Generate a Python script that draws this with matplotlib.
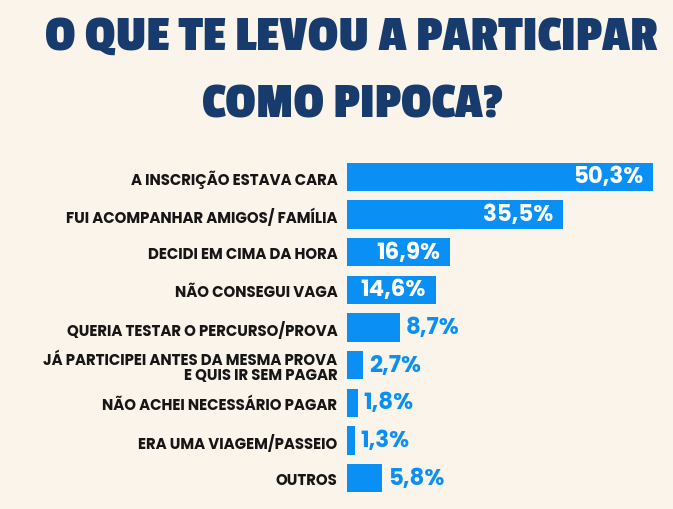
import matplotlib.pyplot as plt

# dados
categorias = [
    'A INSCRIÇÃO ESTAVA CARA',
    'FUI ACOMPANHAR AMIGOS/ FAMÍLIA',
    'DECIDI EM CIMA DA HORA',
    'NÃO CONSEGUI VAGA',
    'QUERIA TESTAR O PERCURSO/PROVA',
    'JÁ PARTICIPEI ANTES DA MESMA PROVA\nE QUIS IR SEM PAGAR',
    'NÃO ACHEI NECESSÁRIO PAGAR',
    'ERA UMA VIAGEM/PASSEIO',
    'OUTROS',
]
valores = [50.3, 35.5, 16.9, 14.6, 8.7, 2.7, 1.8, 1.3, 5.8]
rotulos = ['50,3%', '35,5%', '16,9%', '14,6%', '8,7%', '2,7%', '1,8%', '1,3%', '5,8%']
dentro = [True, True, True, True, False, False, False, False, False]

fundo = '#FBF4EA'
azul = '#0A8FF5'
marinho = '#173B6C'

fig = plt.figure(figsize=(6.73, 5.1), dpi=100, facecolor=fundo)
ax = fig.add_axes([347 / 673, 12 / 510, 326 / 673, 339 / 510])
ax.set_facecolor(fundo)

y = list(range(len(categorias)))
ax.barh(y, valores, height=0.76, color=azul)
ax.set_xlim(0, 326 / 6.08)
ax.set_ylim(len(categorias) - 0.5, -0.5)

for i, (v, r, d) in enumerate(zip(valores, rotulos, dentro)):
    if d:
        ax.annotate(r, (v, i), xytext=(-7, 0), textcoords='offset points',
                    ha='right', va='center', color='white', fontsize=16.5,
                    fontweight='bold', family='Poppins')
    else:
        ax.annotate(r, (v, i), xytext=(4, 0), textcoords='offset points',
                    ha='left', va='center', color=azul, fontsize=16.5,
                    fontweight='bold', family='Poppins')
    ax.annotate(categorias[i], (0, i), xytext=(-7, -1.5), textcoords='offset points',
                ha='right', va='center', color='#161616', fontsize=10.8,
                fontweight='bold', family='Poppins', linespacing=0.9)

ax.axis('off')

fig.text(0.523, 0.902, 'O QUE TE LEVOU A PARTICIPAR', ha='center', va='baseline',
         color=marinho, fontsize=36, fontweight='bold', family='Passion One')
fig.text(0.523, 0.769, 'COMO PIPOCA?', ha='center', va='baseline',
         color=marinho, fontsize=36, fontweight='bold', family='Passion One')

fig.savefig('out.png', dpi=100, facecolor=fundo)
